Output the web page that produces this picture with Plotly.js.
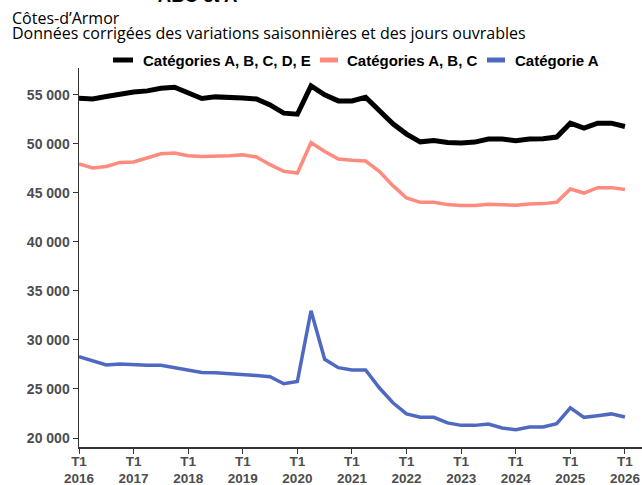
<!DOCTYPE html>
<html>
<head>
<meta charset="utf-8">
<script src="https://cdn.plot.ly/plotly-3.0.1.min.js"></script>
<style>html,body{margin:0;padding:0;background:#fff;}#chart{width:642px;height:485px;}</style>
</head>
<body>
<div id="chart"></div>
<script>
const quarters = ["2016-T1","2016-T2","2016-T3","2016-T4","2017-T1","2017-T2","2017-T3","2017-T4",
"2018-T1","2018-T2","2018-T3","2018-T4","2019-T1","2019-T2","2019-T3","2019-T4",
"2020-T1","2020-T2","2020-T3","2020-T4","2021-T1","2021-T2","2021-T3","2021-T4",
"2022-T1","2022-T2","2022-T3","2022-T4","2023-T1","2023-T2","2023-T3","2023-T4",
"2024-T1","2024-T2","2024-T3","2024-T4","2025-T1","2025-T2","2025-T3","2025-T4","2026-T1"];

const catABCDE = [54630,54560,54800,55040,55270,55380,55650,55750,55200,54600,54770,54770,54660,54560,
53950,53110,53000,55880,54970,54360,54360,54730,53370,52020,50980,50190,50330,50120,
50060,50160,50470,50470,50300,50470,50500,50670,52090,51580,52090,52090,51750];

const catABC = [47930,47520,47680,48090,48130,48540,48970,49040,48770,48700,48700,48770,48870,48640,
47860,47180,47010,50120,49210,48430,48300,48230,47180,45720,44470,44020,44020,43790,
43690,43690,43820,43790,43720,43860,43890,44020,45380,44970,45520,45520,45320];

const catA = [28300,27850,27440,27540,27440,27410,27410,27170,26860,26690,26660,26590,26450,26380,
26250,25530,25770,32970,28020,27170,26930,26930,25120,23590,22460,22110,22110,21540,
21290,21290,21430,21020,20850,21130,21130,21470,23070,22110,22280,22460,22150];

const seriesNames = ["Catégories A, B, C, D, E", "Catégories A, B, C", "Catégorie A"];
const seriesColors = ["#000000", "#FF8A7E", "#4F69C3"];

const tickQuarters = ["2016-T1","2017-T1","2018-T1","2019-T1","2020-T1","2021-T1","2022-T1","2023-T1","2024-T1","2025-T1","2026-T1"];
const tickLabels = ["T1<br>2016","T1<br>2017","T1<br>2018","T1<br>2019","T1<br>2020","T1<br>2021","T1<br>2022","T1<br>2023","T1<br>2024","T1<br>2025","T1<br>2026"];
const yTicks = [20000,25000,30000,35000,40000,45000,50000,55000];
const yTickLabels = ["20 000","25 000","30 000","35 000","40 000","45 000","50 000","55 000"];

const values = [catABCDE, catABC, catA];
const widths = [5, 3.5, 3.5];
const traces = values.map((v, k) => ({
  x: quarters, y: v, name: seriesNames[k], type: "scatter", mode: "lines",
  line: {color: seriesColors[k], width: widths[k]}, showlegend: false
}));

const F = "Liberation Sans, Arial, sans-serif";
const yTickFont = {family: F, size: 14, color: "#4d4d4d", weight: 700};
const xTickFont = {family: F, size: 13.5, color: "#4d4d4d", weight: 700};

// custom legend placement (paper coords)
const legSym = [[0.0604, 0.0959], [0.4281, 0.4600], [0.7247, 0.7567]];
const legText = [0.1100, 0.4728, 0.7712];
const legY = 1.0211;

const shapes = legSym.map((s, k) => ({
  type: "line", xref: "paper", yref: "paper", x0: s[0], x1: s[1], y0: legY, y1: legY,
  line: {color: seriesColors[k], width: 5}
}));

const annotations = [
  {text: "Côtes-d’Armor", xref: "paper", yref: "paper", x: -0.1225, y: 1.1320,
   xanchor: "left", yanchor: "middle", showarrow: false,
   font: {family: "Open Sans, sans-serif", size: 16, color: "#000"}},
  {text: "Données corrigées des variations saisonnières et des jours ouvrables", xref: "paper", yref: "paper",
   x: -0.1225, y: 1.0923, xanchor: "left", yanchor: "middle", showarrow: false,
   font: {family: "Open Sans, sans-serif", size: 16, color: "#000"}}
].concat(seriesNames.map((n, k) => ({
  text: n, xref: "paper", yref: "paper", x: legText[k], y: legY, xanchor: "left", yanchor: "middle",
  showarrow: false, font: {family: F, size: 15, color: "#000", weight: 700}
})));

const layout = {
  width: 642, height: 485,
  margin: {l: 79, r: 0, t: 68, b: 38, pad: 0},
  paper_bgcolor: "#ffffff", plot_bgcolor: "#ffffff",
  showlegend: false,
  title: {text: "ABC et A", x: 0.3077, xanchor: "center", y: 0.995, yanchor: "bottom",
    font: {family: F, size: 18.5, color: "#000", weight: 700}},
  xaxis: {type: "category", range: [0, 41.25], tickvals: tickQuarters, ticktext: tickLabels,
    showgrid: false, zeroline: false, showline: true, linecolor: "#333", linewidth: 1.5,
    ticks: "outside", ticklen: 5, tickcolor: "#333", tickfont: xTickFont, ticklabelstandoff: -4, fixedrange: true},
  yaxis: {range: [19085, 57713], tickvals: yTicks, ticktext: yTickLabels,
    showgrid: false, zeroline: false, showline: true, linecolor: "#333", linewidth: 1.5,
    ticks: "outside", ticklen: 5, tickcolor: "#333", tickfont: yTickFont, fixedrange: true},
  shapes: shapes,
  annotations: annotations
};

Plotly.newPlot("chart", traces, layout, {displayModeBar: false, staticPlot: true});
</script>
</body>
</html>
